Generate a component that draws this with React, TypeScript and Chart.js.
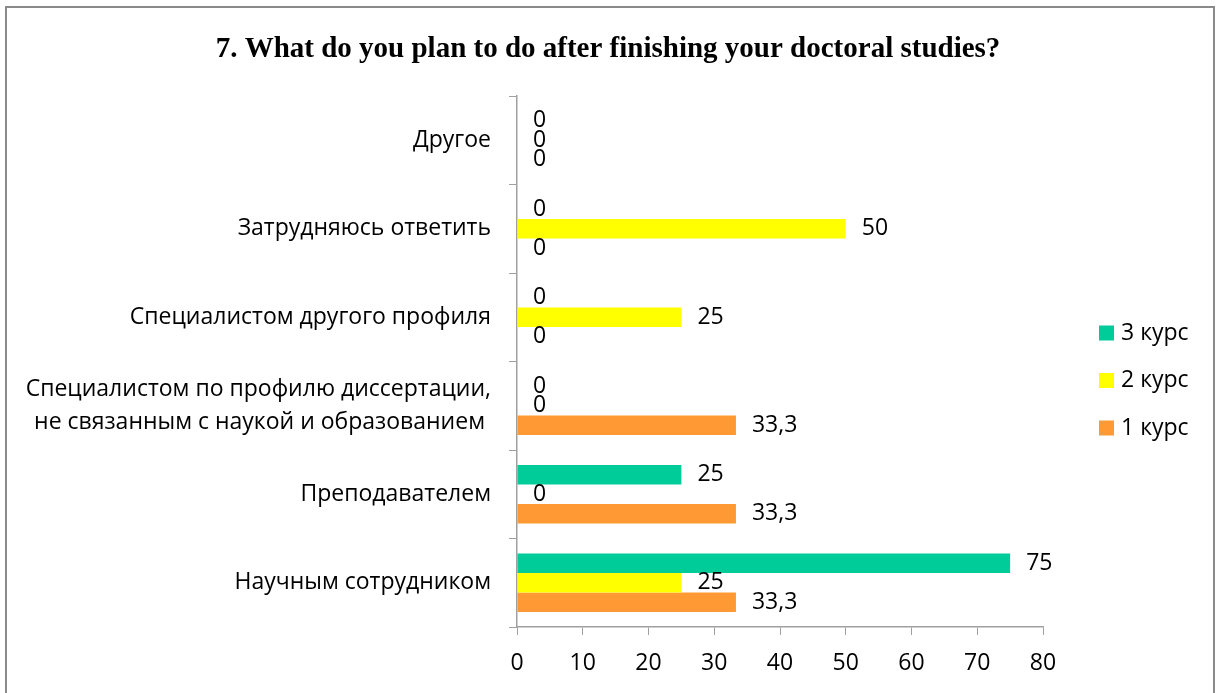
import React, { useEffect, useRef } from "react";
import { Chart, registerables } from "chart.js";

Chart.register(...registerables);

const TITLE = "7. What do you plan to do after finishing your doctoral studies?";

const categories: (string | string[])[] = [
  "Другое",
  "Затрудняюсь ответить",
  "Специалистом другого профиля",
  ["Специалистом по профилю диссертации,", "не связанным с наукой и образованием "],
  "Преподавателем",
  "Научным сотрудником",
];

const seriesNames = ["3 курс", "2 курс", "1 курс"];
const course3 = [0, 0, 0, 0, 25, 75];
const course2 = [0, 50, 25, 0, 0, 25];
const course1 = [0, 0, 0, 33.3, 33.3, 33.3];
const seriesColors = ["#00CC99", "#FFFF00", "#FF9933"];

const X_MIN = 0;
const X_MAX = 80;
const X_STEP = 10;

const FONT = "'Open Sans', 'Noto Sans', sans-serif";
const FS = 23;
const AXIS_COLOR = "#a0a0a0";

const fmt = (v: number) => String(v).replace(".", ",");

const overlayPlugin = {
  id: "overlay",
  beforeDraw(chart: any) {
    const ctx = chart.ctx;
    ctx.save();
    ctx.fillStyle = "#ffffff";
    ctx.fillRect(0, 0, chart.width, chart.height);
    ctx.restore();
  },
  afterDraw(chart: any) {
    const ctx = chart.ctx;
    ctx.save();
    // outer frame
    ctx.strokeStyle = "#8a8a8a";
    ctx.lineWidth = 2;
    ctx.strokeRect(6, 7, 1208, 720);

    // title
    ctx.fillStyle = "#000";
    ctx.font = `bold 29px 'Liberation Serif', 'Times New Roman', serif`;
    ctx.textAlign = "center";
    ctx.textBaseline = "alphabetic";
    ctx.fillText(TITLE, chart.width / 2, 57);

    // data labels
    ctx.font = `${FS}px ${FONT}`;
    ctx.textAlign = "left";
    ctx.textBaseline = "middle";
    chart.data.datasets.forEach((ds: any, di: number) => {
      const meta = chart.getDatasetMeta(di);
      meta.data.forEach((bar: any, i: number) => {
        const v = ds.data[i];
        const p = bar.getProps(["x", "y"], true);
        ctx.fillText(fmt(v), p.x + 16, p.y);
      });
    });

    // legend
    const legendX = 1099;
    const legendY0 = 333;
    const legendGap = 47.5;
    chart.data.datasets.forEach((ds: any, di: number) => {
      const cy = legendY0 + di * legendGap;
      ctx.fillStyle = ds.backgroundColor;
      ctx.fillRect(legendX, cy - 7.5, 15, 15);
      ctx.fillStyle = "#000";
      ctx.fillText(ds.label, legendX + 22, cy);
    });
    ctx.restore();
  },
};

export default function App() {
  const ref = useRef<HTMLCanvasElement | null>(null);

  useEffect(() => {
    if (!ref.current) return;
    const data = [course3, course2, course1];
    const chart = new Chart(ref.current, {
      type: "bar",
      data: {
        labels: categories,
        datasets: seriesNames.map((name, i) => ({
          label: name,
          data: data[i],
          backgroundColor: seriesColors[i],
          borderWidth: 0,
          categoryPercentage: 0.661,
          barPercentage: 1.0,
        })),
      },
      options: {
        indexAxis: "y",
        responsive: false,
        animation: false,
        devicePixelRatio: 1,
        layout: { padding: { left: 0, top: 96, right: 173, bottom: 0 } },
        plugins: {
          legend: { display: false },
          title: { display: false },
          tooltip: { enabled: false },
        },
        scales: {
          x: {
            type: "linear",
            min: X_MIN,
            max: X_MAX,
            ticks: {
              stepSize: X_STEP,
              color: "#000",
              font: { family: FONT, size: FS },
              padding: 15,
            },
            grid: {
              display: true,
              drawOnChartArea: false,
              drawTicks: true,
              tickLength: 8,
              color: AXIS_COLOR,
            },
            border: { display: true, color: AXIS_COLOR, width: 1.5 },
            afterFit: (scale: any) => {
              scale.height = 66;
            },
          },
          y: {
            type: "category",
            offset: true,
            ticks: {
              color: "#000",
              font: { family: FONT, size: FS, lineHeight: 1.45 },
              padding: 18,
              autoSkip: false,
            },
            grid: {
              display: true,
              offset: true,
              drawOnChartArea: false,
              drawTicks: true,
              tickLength: 8,
              color: AXIS_COLOR,
            },
            border: { display: true, color: AXIS_COLOR, width: 1.5 },
            afterFit: (scale: any) => {
              scale.width = 517;
            },
          },
        },
      },
      plugins: [overlayPlugin],
    } as any);
    return () => chart.destroy();
  }, []);

  return (
    <div style={{ position: "absolute", left: 0, top: 0, width: 1216, height: 693 }}>
      <canvas ref={ref} width={1216} height={693} style={{ display: "block" }} />
    </div>
  );
}
